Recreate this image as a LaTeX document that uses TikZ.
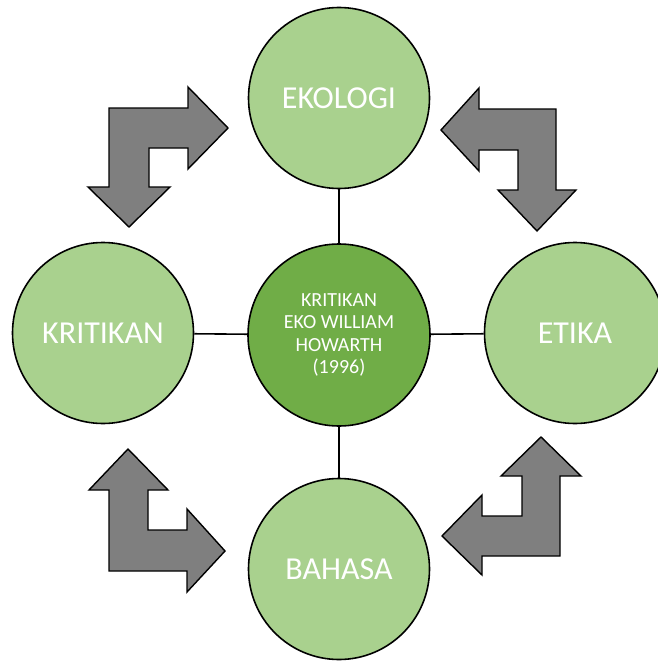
\documentclass[tikz,border=0pt]{standalone}
\usepackage{fontspec}
\setmainfont{Carlito}
\definecolor{lightgr}{HTML}{A9D18E}
\definecolor{midgr}{HTML}{70AD47}
\definecolor{arrgray}{HTML}{7F7F7F}
\begin{document}
\begin{tikzpicture}[x=1pt,y=-1pt,
  outer/.style={circle,draw=black,line width=1.6pt,fill=lightgr,minimum size=181pt,inner sep=0pt,text=white,font=\fontsize{32}{36}\selectfont},
  hub/.style={circle,draw=black,line width=1.6pt,fill=midgr,minimum size=182pt,inner sep=0pt,text=white,align=center,font=\fontsize{20}{22.3}\selectfont},
  link/.style={draw=black,line width=1.6pt},
  bentarrow/.style={draw=black,line width=1.4pt,fill=arrgray,line join=miter}]
\useasboundingbox (0,0) rectangle (657,661);
\node[hub] (ctr) at (339,335) {KRITIKAN\\EKO WILLIAM\\HOWARTH\\(1996)};
\node[outer] (top) at (339,98) {EKOLOGI};
\node[outer] (bot) at (339,569) {BAHASA};
\node[outer] (lft) at (103,333) {KRITIKAN};
\node[outer] (rgt) at (575,333) {ETIKA};
\draw[link] (ctr) -- (top);
\draw[link] (ctr) -- (bot);
\draw[link] (ctr) -- (lft);
\draw[link] (ctr) -- (rgt);
% bent arrows
\draw[bentarrow] (109,108) -- (188,108) -- (188,87) -- (228,128) -- (188,169) -- (188,148) -- (149,148) -- (149,187) -- (170,187) -- (129,227) -- (88,187) -- (109,187) -- cycle;
\draw[bentarrow] (556,109) -- (479,109) -- (479,88) -- (441,130) -- (479,171) -- (479,150) -- (518,150) -- (518,190) -- (498,190) -- (537,231) -- (576,190) -- (556,190) -- cycle;
\draw[bentarrow] (109,571) -- (187,571) -- (187,592) -- (225,551) -- (187,509) -- (187,530) -- (148,530) -- (148,490) -- (168,490) -- (128,449) -- (89,490) -- (109,490) -- cycle;
\draw[bentarrow] (560,556) -- (482,556) -- (482,575) -- (442,536) -- (482,495) -- (482,516) -- (522,516) -- (522,476) -- (501,476) -- (541,437) -- (581,476) -- (560,476) -- cycle;
\end{tikzpicture}
\end{document}
